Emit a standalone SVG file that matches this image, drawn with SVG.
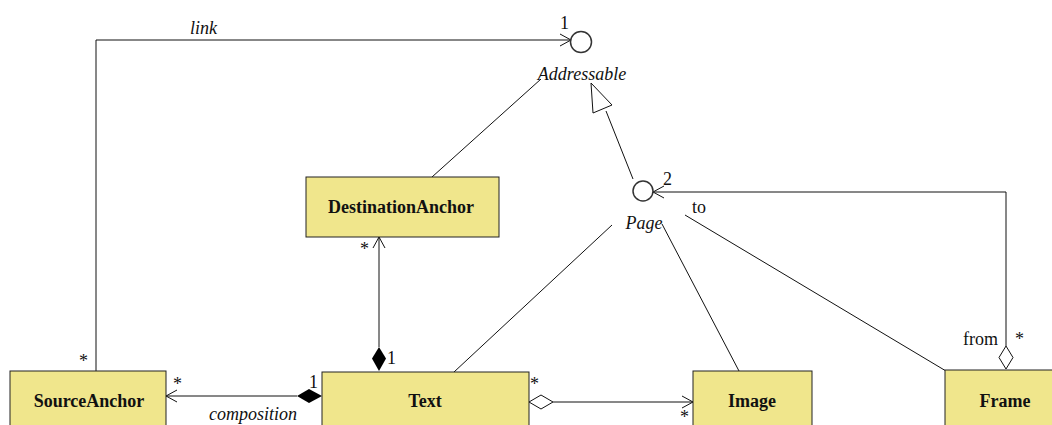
<svg xmlns="http://www.w3.org/2000/svg" width="1052" height="425" viewBox="0 0 1052 425">
<style>
.cls rect{fill:#f0e68c;stroke:#222;stroke-width:1}
.name{font-family:'Liberation Serif','Times New Roman','DejaVu Serif',serif;font-weight:bold;font-size:18px;text-anchor:middle;fill:#111}
.lbl{font-family:'Liberation Serif','Times New Roman','DejaVu Serif',serif;font-size:18px;fill:#111}
.it{font-style:italic}
.ln{fill:none;stroke:#111;stroke-width:1}
.iface{fill:#fff;stroke:#333;stroke-width:1.5}
</style>
<g id="connectors">
  <polyline class="ln" points="96,371 96,40 571,40"/>
  <polyline class="ln" points="560,34 571,40 560,46"/>
  <line class="ln" x1="432" y1="177" x2="541" y2="79"/>
  <line class="ln" x1="606" y1="111" x2="633" y2="179"/>
  <polygon points="591,83 593,113 612,105" fill="#fff" stroke="#111" stroke-width="1"/>
  <polyline class="ln" points="1006,346 1006,192 653,192"/>
  <polyline class="ln" points="664,186 653,192 664,198"/>
  <polygon points="1006,346 1013,357.5 1006,369 999,357.5" fill="#fff" stroke="#111" stroke-width="1"/>
  <line class="ln" x1="379" y1="237" x2="379" y2="347"/>
  <polyline class="ln" points="373,248 379,237 385,248"/>
  <polygon points="379,347 386,358.5 379,371 372,358.5" fill="#000"/>
  <line class="ln" x1="166" y1="396" x2="297" y2="396"/>
  <polyline class="ln" points="177,390 166,396 177,402"/>
  <polygon points="297,396 309,389 322,396 309,403" fill="#000"/>
  <line class="ln" x1="553" y1="402" x2="693" y2="402"/>
  <polyline class="ln" points="682,396 693,402 682,408"/>
  <polygon points="529,402 541,395 553,402 541,409" fill="#fff" stroke="#111" stroke-width="1"/>
  <line class="ln" x1="454" y1="372" x2="612" y2="225"/>
  <line class="ln" x1="739" y1="371" x2="662" y2="224"/>
  <line class="ln" x1="946" y1="371" x2="685" y2="215"/>
</g>
<g id="Addressable">
  <circle class="iface" cx="581" cy="42" r="10.5"/>
  <text class="lbl it" x="582" y="80" text-anchor="middle">Addressable</text>
</g>
<g id="Page">
  <circle class="iface" cx="643" cy="191" r="10"/>
  <text class="lbl it" x="644" y="229" text-anchor="middle">Page</text>
</g>
<g id="DestinationAnchor" class="cls">
  <rect x="306" y="177" width="193" height="60"/>
  <text class="name" x="401" y="213">DestinationAnchor</text>
</g>
<g id="SourceAnchor" class="cls">
  <rect x="10" y="371" width="156" height="60"/>
  <text class="name" x="89" y="407">SourceAnchor</text>
</g>
<g id="Text" class="cls">
  <rect x="322" y="372" width="207" height="60"/>
  <text class="name" x="425" y="407">Text</text>
</g>
<g id="Image" class="cls">
  <rect x="693" y="371" width="119" height="60"/>
  <text class="name" x="752" y="407">Image</text>
</g>
<g id="Frame" class="cls">
  <rect x="945" y="370" width="120" height="60"/>
  <text class="name" x="1005" y="407">Frame</text>
</g>
<g id="labels">
  <text class="lbl it" x="190" y="34">link</text>
  <text class="lbl" x="560" y="29">1</text>
  <text class="lbl" x="663" y="185">2</text>
  <text class="lbl" x="692" y="213">to</text>
  <text class="lbl" x="963" y="345">from</text>
  <text class="lbl" x="1015" y="345">*</text>
  <text class="lbl" x="79" y="367">*</text>
  <text class="lbl" x="360" y="255">*</text>
  <text class="lbl" x="387" y="364">1</text>
  <text class="lbl" x="173" y="390">*</text>
  <text class="lbl" x="309" y="388">1</text>
  <text class="lbl it" x="209" y="420">composition</text>
  <text class="lbl" x="530" y="390">*</text>
  <text class="lbl" x="680" y="423">*</text>
</g>
</svg>
